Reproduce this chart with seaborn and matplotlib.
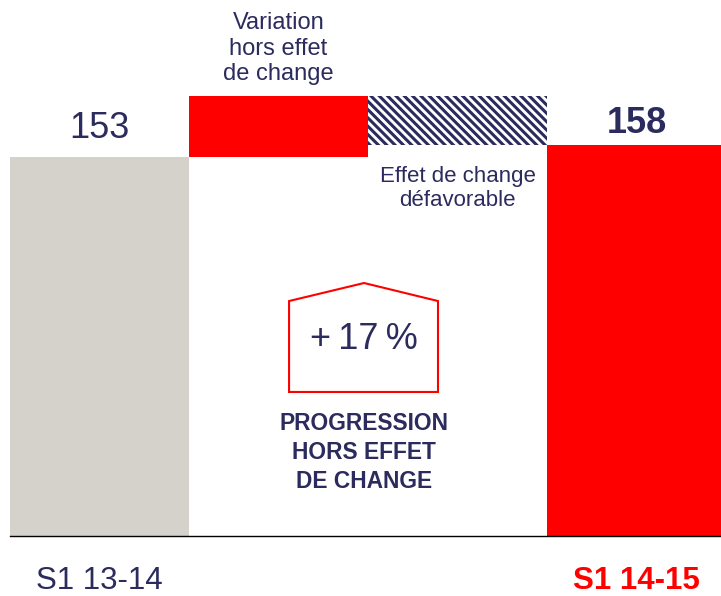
import matplotlib
matplotlib.use("Agg")
import matplotlib.pyplot as plt
import seaborn as sns
import pandas as pd
from matplotlib.patches import Polygon

# ---- data ----
categories = ["S1 13-14", "Variation", "Change", "S1 14-15"]
bottoms = [0, 153, 158, 0]
heights = [153, 25, 20, 158]
value_labels = ["153", "", "", "158"]
tick_labels = ["S1 13-14", "", "", "S1 14-15"]
growth_label = "+\u200917\u2009%"
variation_text = "Variation\nhors effet\nde change"
fx_text = "Effet de change\ndéfavorable"
progression_text = "PROGRESSION\nHORS EFFET\nDE CHANGE"

NAVY = "#2b2b5e"
GRAY = "#d5d2cc"
RED = "#ff0000"
bar_colors = [GRAY, RED, "white", RED]

sns.set_theme(style="white")
plt.rcParams["font.family"] = ["Liberation Sans", "DejaVu Sans"]
plt.rcParams["hatch.linewidth"] = 2.2

W, H = 721, 596
fig = plt.figure(figsize=(W / 100, H / 100), dpi=100)
# axes: left edge at x=10px, 4 bars of 179px, baseline at y=535.5px
ax = fig.add_axes([10 / W, (H - 535.5) / H, 716 / W, 535.5 / H])

df = pd.DataFrame({"cat": categories, "h": heights, "b": bottoms})
sns.barplot(data=df, x="cat", y="h", order=categories, color=GRAY, width=1.0,
            saturation=1, bottom=df["b"].to_numpy(), linewidth=0, ax=ax)

for p, c in zip(ax.patches, bar_colors):
    p.set_facecolor(c)
    p.set_linewidth(0)

hp = ax.patches[2]
hp.set_facecolor("white")
hp.set_edgecolor(NAVY)
hp.set_hatch("\\\\\\\\")
hp.set_linewidth(0)

ax.set_xlim(-0.5, 3.5)
ax.set_ylim(0, 535.5 / 2.4706)
ax.set_xlabel("")
ax.set_ylabel("")
ax.set_yticks([])
for s in ["top", "right", "left"]:
    ax.spines[s].set_visible(False)
ax.spines["bottom"].set_color("black")
ax.spines["bottom"].set_linewidth(1.0)

ax.set_xticks(range(4))
ax.set_xticklabels(tick_labels)
ax.tick_params(axis="x", length=0, pad=22)
tl = ax.get_xticklabels()
tl[0].set_color(NAVY)
tl[0].set_fontsize(22.5)
tl[3].set_color(RED)
tl[3].set_fontsize(22.5)
tl[3].set_fontweight("bold")

# value labels
tops = [b + h for b, h in zip(bottoms, heights)]
ax.annotate(value_labels[0], (0, tops[0]), xytext=(0, 14), textcoords="offset points",
            ha="center", va="baseline", fontsize=26, color=NAVY)
ax.annotate(value_labels[3], (3, tops[3]), xytext=(0, 8.8), textcoords="offset points",
            ha="center", va="baseline", fontsize=26, color=NAVY, fontweight="bold")

# annotations
ax.annotate(variation_text, (1, tops[1]), xytext=(0, 11), textcoords="offset points",
            ha="center", va="baseline", fontsize=17, color=NAVY, linespacing=1.22)
ax.annotate(fx_text, (2, bottoms[2]), xytext=(0, -15), textcoords="offset points",
            ha="center", va="top", fontsize=16, color=NAVY, linespacing=1.19)

# house-shaped box
cx = 1.478
pent = Polygon([(1.059, 58.1), (1.059, 94.9), (cx, 102.2), (1.891, 94.9), (1.891, 58.1)],
               closed=True, fill=False, edgecolor=RED, linewidth=1.5)
ax.add_patch(pent)
ax.text(cx, 79.5, growth_label, ha="center", va="center", fontsize=26, color=NAVY)
ax.text(cx, 33.6, progression_text, ha="center", va="center", fontsize=16.4,
        color=NAVY, fontweight="bold", linespacing=1.33)

fig.savefig("out.png", dpi=100)
